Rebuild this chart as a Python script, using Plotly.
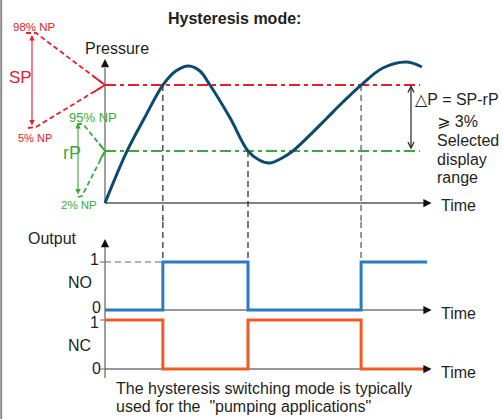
import plotly.graph_objects as go

W, H = 503, 419

# ---------------- data ----------------
time = [0.00, 0.68, 1.23, 1.78, 2.18, 2.58, 2.92, 3.23, 3.85, 4.40, 4.74,
        5.08, 5.45, 5.78, 6.31, 6.83, 7.32, 7.88, 8.55, 9.29, 9.75]
pressure = [0.0, 36.4, 60.1, 82.5, 92.3, 95.8, 92.3, 82.5, 59.4, 36.4, 30.1,
            28.0, 31.5, 36.4, 47.6, 59.4, 70.6, 82.5, 94.4, 98.6, 95.1]
SP_level = 82.5
RP_level = 36.4
level_end = 9.69
switch_times = [1.78, 4.40, 7.88]
switch_levels = [SP_level, RP_level, SP_level]
step_times = [0.0, 1.78, 4.40, 7.88, 9.91]
no_output = [0, 1, 0, 1, 1]
nc_output = [1, 0, 1, 0, 0]
output_ticks = ["0", "1"]
sp_range_labels = ["98% NP", "5% NP"]
rp_range_labels = ["95% NP", "2% NP"]
time_end = 10.05

# ---------------- layout constants (pixel geometry) ----------------
X0, KX = 105, 32.5          # time 0 at px 105, 32.5 px per unit
Y0P, KP = 203, 1.43         # pressure 0 at py 203
Y0NO, KNO = 310, 48         # NO 0 at py 310
Y0NC, KNC = 369, 49         # NC 0 at py 369
B1, B2 = 222, 315           # panel boundaries (px)

RED = "#e6202a"
GREEN = "#3aaa3a"
NAVY = "#0c4a70"
BLUE = "#2b7bc4"
ORANGE = "#f15a24"
GREY = "#808080"
TXT = "#231f20"
FONT = "Liberation Sans, Arial, DejaVu Sans, sans-serif"


def tx(px):
    return (px - X0) / KX


def pp(py):
    return (Y0P - py) / KP


fig = go.Figure()


def line(x, y, color, width, axis="y", dash="solid", shape="linear"):
    fig.add_trace(go.Scatter(x=x, y=y, mode="lines", yaxis=axis, hoverinfo="skip",
                             line=dict(color=color, width=width, dash=dash, shape=shape),
                             showlegend=False))


p_bottom = (Y0P - B1) / KP
no_top = (Y0NO - B1) / KNO
no_bottom = (Y0NO - B2) / KNO
nc_top = (Y0NC - B2) / KNC

# axes of pressure panel
line([0, 0], [0, pp(68)], GREY, 1.5)
line([0, time_end - 0.25], [0, 0], GREY, 2)
# axes of output panels
line([0, 0], [(Y0NC - 378) / KNC, nc_top], GREY, 1.5, "y3")
line([0, 0], [no_bottom, (Y0NO - 246) / KNO], GREY, 1.5, "y2")
line([0, time_end - 0.25], [0, 0], "#333333", 1.2, "y2")
line([0, time_end - 0.25], [0, 0], "#333333", 1.2, "y3")
# small ticks on the output axes
line([tx(100), 0], [1, 1], GREY, 1.2, "y2")
line([tx(100), 0], [1, 1], GREY, 1.2, "y3")
line([tx(100), 0], [0, 0], GREY, 1.2, "y3")

# SP / rP levels
line([0, level_end], [SP_level, SP_level], RED, 2, dash="11px,4px,4px,4px")
line([0, level_end], [RP_level, RP_level], GREEN, 2, dash="11px,4px,4px,4px")

# switching guides
guide_cols = ["#222222", "#222222", "#8a8a8a"]
guide_w = [1.2, 1.2, 1.8]
for t, lv, c, w in zip(switch_times, switch_levels, guide_cols, guide_w):
    line([t, t], [lv, p_bottom], c, w, dash="6px,4px")
    line([t, t], [no_top, 1], c, w, "y2", dash="6px,4px")
line([0, switch_times[0]], [1, 1], "#666666", 1.2, "y2", dash="6px,4px")

# outputs
line(step_times, no_output, BLUE, 3, "y2", shape="hv")
line(step_times, nc_output, ORANGE, 3, "y3", shape="hv")

# pressure curve
fig.add_trace(go.Scatter(x=time, y=pressure, mode="lines", yaxis="y", hoverinfo="skip",
                         line=dict(color=NAVY, width=3, shape="spline", smoothing=1.0),
                         showlegend=False))

# left schematic: SP range (red) and rP range (green)
line([tx(26), tx(36), 0], [pp(33), pp(33), SP_level], RED, 1.8, dash="5px,3px")
line([tx(28), tx(36), 0], [pp(128), pp(127), SP_level], RED, 1.8, dash="5px,3px")
line([tx(93), 0, tx(93)], [pp(76), SP_level, pp(92.5)], RED, 1.8)
line([tx(77), tx(83), 0], [pp(124), pp(124), RP_level], GREEN, 1.8, dash="5px,3px")
line([tx(78), tx(82), 0], [pp(197), pp(196), RP_level], GREEN, 1.8, dash="5px,3px")
line([tx(99), 0, tx(100)], [pp(143.5), RP_level, pp(160)], GREEN, 1.8)

ann = []


def arrow(x, y, ax, ay, color, width=1.5, head=2, size=1.1, yref="y", both=False):
    d = dict(x=x, y=y, ax=ax, ay=ay, xref="x", yref=yref, axref="x", ayref=yref,
             text="", showarrow=True, arrowhead=head, arrowsize=size, arrowwidth=width,
             arrowcolor=color)
    if both:
        d.update(arrowside="end+start", startarrowhead=head, startarrowsize=size)
    ann.append(d)


# axis arrowheads
arrow(0, pp(59), 0, pp(68), "#111111")
arrow(time_end, 0, time_end - 0.3, 0, "#111111")
arrow(0, (Y0NO - 239) / KNO, 0, (Y0NO - 248) / KNO, "#111111", yref="y2")
arrow(time_end, 0, time_end - 0.3, 0, "#111111", yref="y2")
arrow(time_end, 0, time_end - 0.3, 0, "#111111", yref="y3")
# delta-P double arrow
arrow(tx(411), SP_level, tx(411), RP_level, "#222222", width=1.2, head=5, size=1.0, both=True)
# range arrows on the left
arrow(tx(32), pp(35), tx(32), pp(127), RED, width=1.1, head=2, size=1.0, both=True)
arrow(tx(78), pp(123), tx(78), pp(196), GREEN, width=1.1, head=2, size=1.0, both=True)


def label(text, px, py, size=16, color=TXT, xanchor="left"):
    ann.append(dict(text=text, x=px / W, y=1 - py / H, xref="paper", yref="paper",
                    xanchor=xanchor, yanchor="middle", showarrow=False,
                    font=dict(size=size, color=color, family=FONT)))


label("<b>Hysteresis mode:</b>", 166, 18)
label("Pressure", 83, 48)
label("Time", 439, 205)
label("Time", 439, 313)
label("Time", 439, 372)
label("Output", 26, 238)
label(output_ticks[1], 101, 259, xanchor="right")
label(output_ticks[0], 103, 307, xanchor="right")
label(output_ticks[1], 101, 322, xanchor="right")
label(output_ticks[0], 103, 368, xanchor="right")
label("NO", 66, 282)
label("NC", 66, 345)
label(sp_range_labels[0], 34, 27, 11.5, RED, "center")
label(sp_range_labels[1], 35, 138, 11, RED, "center")
label("SP", 7, 78, 17, RED)
label(rp_range_labels[0], 93, 117, 13, GREEN, "center")
label(rp_range_labels[1], 79, 205, 11.5, GREEN, "center")
label("rP", 61, 153, 18, GREEN)
label("△P = SP-rP", 413, 100)
label("⩾ 3%", 435, 121)
label("Selected", 435, 140)
label("display", 435, 159)
label("range", 435, 178)
label("The hysteresis switching mode is typically", 114, 388)
label("used for the  \"pumping applications\"", 114, 406)

axis_common = dict(showgrid=False, zeroline=False, showticklabels=False,
                   showline=False, ticks="", fixedrange=True)

fig.update_layout(
    width=W, height=H,
    margin=dict(l=0, r=0, t=0, b=0),
    paper_bgcolor="white", plot_bgcolor="white",
    showlegend=False,
    xaxis=dict(domain=[0, 1], range=[tx(0), tx(W)], **axis_common),
    yaxis=dict(domain=[1 - B1 / H, 1], range=[pp(B1), pp(0)], anchor="x", **axis_common),
    yaxis2=dict(domain=[1 - B2 / H, 1 - B1 / H], range=[(Y0NO - B2) / KNO, (Y0NO - B1) / KNO],
                anchor="x", **axis_common),
    yaxis3=dict(domain=[0, 1 - B2 / H], range=[(Y0NC - H) / KNC, (Y0NC - B2) / KNC],
                anchor="x", **axis_common),
    annotations=ann,
    shapes=[dict(type="line", xref="paper", yref="paper", x0=1.2 / W, x1=1.2 / W, y0=0, y1=1,
                 line=dict(color="#8c8c8c", width=2))],
)

fig.write_html("out.html", config={"displayModeBar": False},
               post_script="document.body.style.margin='0';document.body.style.overflow='hidden';")
